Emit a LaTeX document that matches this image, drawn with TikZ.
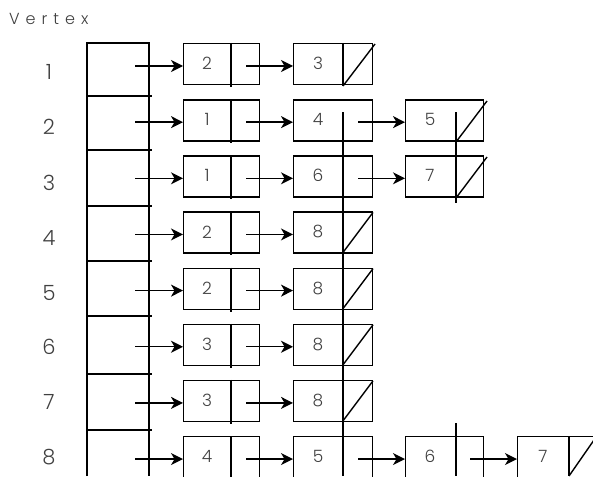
\documentclass[tikz,border=0pt]{standalone}
\usepackage{fontspec}
\setmainfont{Poppins}[UprightFont=* Light]
\usetikzlibrary{arrows.meta}
\definecolor{txt}{HTML}{404040}
\begin{document}
\begin{tikzpicture}[x=1pt,y=-1pt,
  ln/.style={line width=1.4pt},
  cell/.style={draw, line width=1.4pt, anchor=north west, minimum height=41pt, inner sep=0pt},
  num/.style={text=txt, font=\fontsize{17}{17}\selectfont, inner sep=0pt},
  lab/.style={text=txt, font=\fontsize{21}{21}\selectfont, inner sep=0pt},
  ptr/.style={line width=1.4pt, -{Stealth[length=12pt,width=12pt,inset=3.5pt]}}]
\useasboundingbox (0,0) rectangle (593,476);
% title
\node[anchor=west, text=txt, font=\fontsize{16}{16}\selectfont, inner sep=0pt] (title) at (9,19)
  {V\kern6pt e\kern6pt r\kern6pt t\kern6pt e\kern6pt x};
% vertex array
\draw[ln] (87,476) -- (87,43) -- (149,43) -- (149,476);
\foreach \s in {96,150,206,261,316,374,430} \draw[ln] (87,\s) -- (152,\s);
\foreach \r/\ly in {1/72,2/127,3/183,4/238,5/293,6/347,7/402,8/457}
  \node[lab] (l\r) at (49,\ly) {\r};
% rows
\foreach \r/\a/\b in {1/2/3,2/1/4,3/1/6,4/2/8,5/2/8,6/3/8,7/3/8,8/4/5}{
  \pgfmathsetmacro\T{43+(\r-1)*56.15}
  \pgfmathsetmacro\Y{\T+23}
  \coordinate (s\r) at (135,\Y);
  \coordinate (t\r) at (246,\Y);
  \node[cell, minimum width=76pt] (a\r) at (183,\T) {};
  \node[num] (na\r) at (207,\T+20.5) {\a};
  \draw[ln] (231,\T) -- (231,\T+44);
  \node[cell, minimum width=79pt] (b\r) at (293,\T) {};
  \node[num] (nb\r) at (318,\T+20.5) {\b};
  \draw[ptr] (s\r) -- (s\r -| a\r.west);
  \draw[ptr] (t\r) -- (t\r -| b\r.west);
}
% third column, rows 2 and 3
\foreach \r/\c in {2/5,3/7}{
  \pgfmathsetmacro\T{43+(\r-1)*56.15}
  \pgfmathsetmacro\Y{\T+23}
  \coordinate (u\r) at (358,\Y);
  \node[cell, minimum width=78pt] (c\r) at (405,\T) {};
  \node[num] (nc\r) at (430,\T+20.5) {\c};
  \draw[ptr] (u\r) -- (u\r -| c\r.west);
}
% row 8 extra cells
\pgfmathsetmacro\T{43+7*56.15}
\pgfmathsetmacro\Y{\T+23}
\coordinate (u8) at (358,\Y);
\coordinate (v8) at (470,\Y);
\node[cell, minimum width=78pt] (c8) at (405,\T) {};
\node[num] (nc8) at (430,\T+20.5) {6};
\node[cell, minimum width=80pt] (d8) at (517,\T) {};
\node[num] (nd8) at (543,\T+20.5) {7};
\draw[ptr] (u8) -- (u8 -| c8.west);
\draw[ptr] (v8) -- (v8 -| d8.west);
% dividers and null marks
\draw[ln] (343,43) -- (343,86);
\draw[ln] (343,86) -- (375,44);
\draw[line width=1.7pt] (343,112) -- (343,476);
\draw[ln] (456,112) -- (456,203);
\draw[ln] (456,142) -- (487,101);
\draw[ln] (456,198) -- (487,157);
\foreach \r in {4,5,6,7}{
  \pgfmathsetmacro\T{43+(\r-1)*56.15}
  \draw[ln] (343,\T+41) -- (373,\T+1);
}
\draw[ln] (456,423) -- (456,476);
\draw[ln] (569,436) -- (569,476);
\draw[ln] (569,476) -- (594,440);
\end{tikzpicture}
\end{document}
